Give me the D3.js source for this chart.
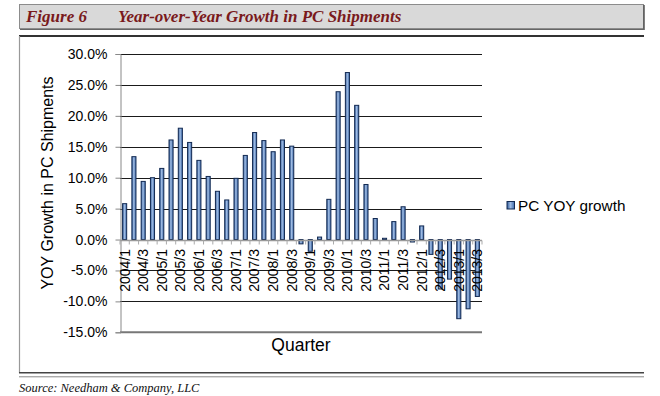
<!DOCTYPE html>
<html><head><meta charset="utf-8">
<script src="https://cdn.jsdelivr.net/npm/d3@7"></script>
<style>
html,body{margin:0;padding:0;background:#fff;}
svg{display:block;}
</style></head>
<body>
<svg id="c" width="660" height="396"></svg>
<script>
// ---- data ----
const quarters = [
 "2004/1","2004/2","2004/3","2004/4","2005/1","2005/2","2005/3","2005/4",
 "2006/1","2006/2","2006/3","2006/4","2007/1","2007/2","2007/3","2007/4",
 "2008/1","2008/2","2008/3","2008/4","2009/1","2009/2","2009/3","2009/4",
 "2010/1","2010/2","2010/3","2010/4","2011/1","2011/2","2011/3","2011/4",
 "2012/1","2012/2","2012/3","2012/4","2013/1","2013/2","2013/3"];
const pcYoyGrowth = [
 5.8,13.4,9.4,10.0,11.5,16.1,18.0,15.7,
 12.8,10.2,7.8,6.4,9.9,13.6,17.3,16.0,
 14.2,16.1,15.1,-0.7,-1.9,0.4,6.5,23.9,
 27.0,21.7,8.9,3.4,0.2,2.9,5.3,-0.4,
 2.2,-2.4,-8.0,-6.4,-12.8,-11.2,-9.2];
const xTickLabels = ["2004/1","2004/3","2005/1","2005/3","2006/1","2006/3","2007/1","2007/3",
 "2008/1","2008/3","2009/1","2009/3","2010/1","2010/3","2011/1","2011/3","2012/1","2012/3",
 "2013/1","2013/3"];
const yTicks = [-15,-10,-5,0,5,10,15,20,25,30];
const seriesName = "PC YOY growth";
const titleNum = "Figure 6";
const titleText = "Year-over-Year Growth in PC Shipments";
const sourceText = "Source: Needham & Company, LLC";

// ---- drawing ----
const svg = d3.select("#c");
const defs = svg.append("defs");
const g1 = defs.append("linearGradient").attr("id","barg").attr("x1","0").attr("x2","1").attr("y1","0").attr("y2","0");
g1.append("stop").attr("offset","0").attr("stop-color","#2f5a99");
g1.append("stop").attr("offset","0.45").attr("stop-color","#9fbbe2");
g1.append("stop").attr("offset","1").attr("stop-color","#3d6aab");

// title bar
svg.append("rect").attr("x",19.5).attr("y",4.5).attr("width",624).attr("height",24)
  .attr("fill","#d9d9d9").attr("stroke","#8c8c8c").attr("stroke-width",1);
svg.append("line").attr("x1",644).attr("x2",644).attr("y1",5).attr("y2",30).attr("stroke","#555").attr("stroke-width",1.5);
svg.append("line").attr("x1",20).attr("x2",644).attr("y1",29.5).attr("y2",29.5).attr("stroke","#666").attr("stroke-width",1.2);
const tf = "'Liberation Serif', 'DejaVu Serif', serif";
svg.append("text").attr("x",26).attr("y",22).text(titleNum)
  .attr("font-family",tf).attr("font-weight","bold").attr("font-style","italic")
  .attr("font-size",17).attr("fill","#7a1a1c");
svg.append("text").attr("x",118).attr("y",22).text(titleText)
  .attr("font-family",tf).attr("font-weight","bold").attr("font-style","italic")
  .attr("font-size",17).attr("fill","#7a1a1c");

// content frame
svg.append("line").attr("x1",19).attr("x2",644).attr("y1",36).attr("y2",36).attr("stroke","#333").attr("stroke-width",2);
svg.append("line").attr("x1",19.5).attr("x2",19.5).attr("y1",36).attr("y2",373).attr("stroke","#999").attr("stroke-width",1.2);
svg.append("line").attr("x1",19).attr("x2",644).attr("y1",372.8).attr("y2",372.8).attr("stroke","#444").attr("stroke-width",1.5);
svg.append("line").attr("x1",19).attr("x2",644).attr("y1",376.8).attr("y2",376.8).attr("stroke","#888").attr("stroke-width",1);

svg.append("text").attr("x",19).attr("y",392).text(sourceText)
  .attr("font-family",tf).attr("font-style","italic").attr("font-size",12.5).attr("fill","#111");

// scales
const x = d3.scaleBand().domain(quarters).range([120,482]).paddingInner(0.56).paddingOuter(0.28);
const y = d3.scaleLinear().domain([-15,30]).range([332.3,54]);
const sf = "'Liberation Sans', Arial, sans-serif";

// gridlines
svg.append("g").selectAll("line").data(yTicks.filter(d=>d!==0 && d!==-15)).join("line")
  .attr("x1",120).attr("x2",482).attr("y1",d=>Math.round(y(d))+0.5).attr("y2",d=>Math.round(y(d))+0.5)
  .attr("stroke","#1a1a1a").attr("stroke-width",1);
svg.append("line").attr("x1",120).attr("x2",482).attr("y1",y(-15)).attr("y2",y(-15))
  .attr("stroke","#777").attr("stroke-width",2);

// y axis
const yAxis = d3.axisLeft(y).tickValues(yTicks).tickSize(5).tickPadding(8)
  .tickFormat(d=>d.toFixed(1)+"%");
const ya = svg.append("g").attr("transform","translate(120.5,0)").call(yAxis);
ya.select(".domain").attr("stroke","#888");
ya.selectAll(".tick line").attr("stroke","#888");
ya.selectAll(".tick text").attr("font-family",sf).attr("font-size",14).attr("fill","#000");

// bars
svg.append("g").selectAll("rect").data(pcYoyGrowth).join("rect")
  .attr("x",(d,i)=>x(quarters[i]))
  .attr("width",x.bandwidth())
  .attr("y",d=>y(Math.max(0,d)))
  .attr("height",d=>Math.max(1,Math.abs(y(d)-y(0))))
  .attr("fill","url(#barg)").attr("stroke","#132a52").attr("stroke-width",1);

// x axis at zero
const y0 = Math.round(y(0))+0.5;
svg.append("line").attr("x1",120).attr("x2",482).attr("y1",y0).attr("y2",y0).attr("stroke","#999").attr("stroke-width",1.5);
const bounds = quarters.map((q,i)=>120 + i*x.step()).concat([482]);
svg.append("g").selectAll("line").data(bounds).join("line")
  .attr("x1",d=>d).attr("x2",d=>d).attr("y1",y0).attr("y2",y0+4)
  .attr("stroke","#aaa").attr("stroke-width",1);

// x tick labels
svg.append("g").selectAll("text").data(xTickLabels).join("text")
  .attr("transform",d=>`translate(${x(d)+x.bandwidth()/2},249) rotate(-90)`)
  .attr("text-anchor","end").attr("dy","0.35em")
  .attr("font-family",sf).attr("font-size",14).attr("fill","#000").text(d=>d);

// axis titles
svg.append("text").attr("transform","translate(47,183) rotate(-90)").attr("text-anchor","middle")
  .attr("dy","0.35em").attr("font-family",sf).attr("font-size",16).attr("fill","#000")
  .text("YOY Growth in PC Shipments");
svg.append("text").attr("x",301).attr("y",351).attr("text-anchor","middle")
  .attr("font-family",sf).attr("font-size",17.5).attr("fill","#000").text("Quarter");

// legend
svg.append("rect").attr("x",507).attr("y",201.5).attr("width",7.5).attr("height",7.5)
  .attr("fill","url(#barg)").attr("stroke","#132a52").attr("stroke-width",1);
svg.append("text").attr("x",518).attr("y",211).attr("font-family",sf).attr("font-size",15.3)
  .attr("fill","#000").text(seriesName);
</script>
</body></html>
